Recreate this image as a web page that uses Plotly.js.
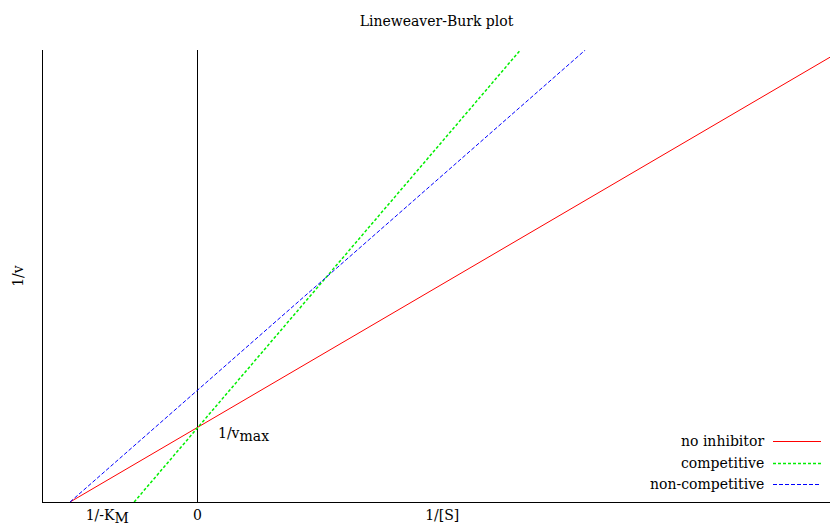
<!DOCTYPE html>
<html>
<head>
<meta charset="utf-8">
<script src="https://cdn.plot.ly/plotly-3.0.1.min.js"></script>
<style>html,body{margin:0;padding:0;background:#fff;}#chart{width:830px;height:529px;}</style>
</head>
<body>
<div id="chart"></div>
<script>
// Data
const seriesNames = ["no inhibitor", "competitive", "non-competitive"];
const noInhibitorX = [-0.825, 4.094];
const noInhibitorY = [0, 9.84];
const competitiveX = [-0.41, 2.09];
const competitiveY = [0, 10];
const nonCompetitiveX = [-0.825, 2.51];
const nonCompetitiveY = [0, 10];
const yAxisLineX = [0, 0];
const yAxisLineY = [0, 10];
const tickVals = [-0.584, 0, 1.584];
const tickLabels = ["1/-K<sub><span style='font-size:14px'>M</span></sub>", "0", "1/[S]"];

const FONT = "DejaVu Serif";
const FS = 14;

const traces = [
  {x: yAxisLineX, y: yAxisLineY, mode: "lines", line: {color: "#000", width: 1}, showlegend: false, hoverinfo: "skip"},
  {x: noInhibitorX, y: noInhibitorY, mode: "lines", name: seriesNames[0], line: {color: "#ff0000", width: 1}},
  {x: competitiveX, y: competitiveY, mode: "lines", name: seriesNames[1], line: {color: "#00ee00", width: 1.5, dash: "3px,2px"}},
  {x: nonCompetitiveX, y: nonCompetitiveY, mode: "lines", name: seriesNames[2], line: {color: "#0000ff", width: 1, dash: "4px,2px"}}
];

// legend drawn gnuplot-style: text right-aligned, sample line to its right
const legendColors = ["#ff0000", "#00ee00", "#0000ff"];
const legendDash = ["solid", "3px,2px", "4px,2px"];
const legendWidth = [1, 1.5, 1];
const legendYpx = [441, 463, 484];
const H = 529, T = 50, B = 27, L = 43, R = 0, W = 830;
const plotH = H - T - B, plotW = W - L - R;
const annotations = [
  {x: 0.12, y: 1.5, xref: "x", yref: "y", text: "1/v<sub><span style='font-size:14px'>max</span></sub>", showarrow: false, xanchor: "left", yanchor: "middle", font: {family: FONT, size: FS, color: "#000"}}
];
const shapes = [];
seriesNames.forEach((n, i) => {
  const yp = 1 - (legendYpx[i] - T) / plotH;
  const yl = 1 - (legendYpx[i] + 0.5 - T) / plotH;
  annotations.push({x: (766 - L) / plotW, y: yp, xref: "paper", yref: "paper", text: n, showarrow: false, xanchor: "right", yanchor: "middle", font: {family: FONT, size: FS, color: "#000"}});
  shapes.push({type: "line", xref: "paper", yref: "paper", x0: (773 - L) / plotW, x1: (821 - L) / plotW, y0: yl, y1: yl, line: {color: legendColors[i], width: legendWidth[i], dash: legendDash[i]}});
});

const layout = {
  width: W, height: H,
  margin: {l: L, r: R, t: T, b: B, pad: 0},
  paper_bgcolor: "#fff", plot_bgcolor: "#fff",
  showlegend: false,
  font: {family: FONT, size: FS, color: "#000"},
  title: {text: "Lineweaver-Burk plot", font: {family: FONT, size: FS, color: "#000"}, x: 0.5, xref: "paper", y: 1 - 21 / H, yref: "container", yanchor: "middle"},
  xaxis: {range: [-1, 4.094], showgrid: false, zeroline: false, showline: true, linecolor: "#000", linewidth: 1, ticks: "", tickvals: tickVals, ticktext: tickLabels, tickfont: {family: FONT, size: FS, color: "#000"}, automargin: false, fixedrange: true},
  yaxis: {range: [0, 10], showgrid: false, zeroline: false, showline: true, linecolor: "#000", linewidth: 1, ticks: "", showticklabels: false, automargin: false, title: {text: "1/v", font: {family: FONT, size: FS, color: "#000"}, standoff: 15}, fixedrange: true},
  annotations: annotations,
  shapes: shapes
};

Plotly.newPlot("chart", traces, layout, {displayModeBar: false, staticPlot: true});
</script>
</body>
</html>
